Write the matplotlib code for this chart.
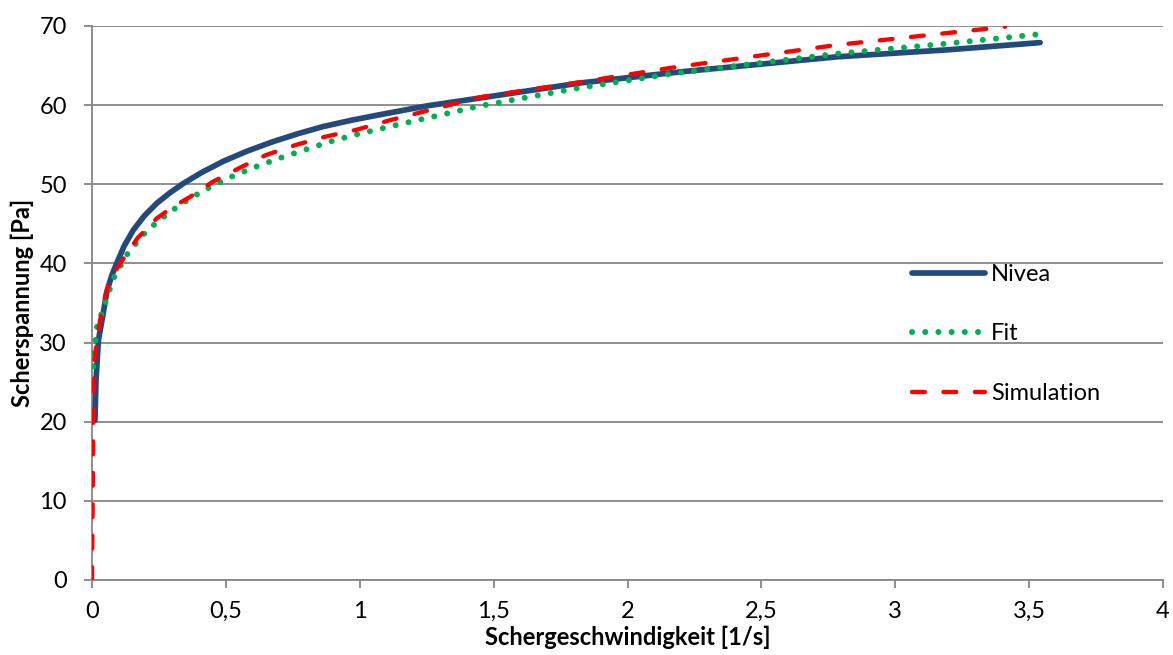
import matplotlib
matplotlib.use('Agg')
import matplotlib.pyplot as plt
from matplotlib.ticker import FuncFormatter, MultipleLocator

plt.rcParams['font.family'] = ['Lato', 'DejaVu Sans']

# Schergeschwindigkeit [1/s] / Scherspannung [Pa]
nivea_x = [0.011, 0.015, 0.024, 0.042, 0.055, 0.073, 0.092, 0.12, 0.154, 0.195,
           0.242, 0.29, 0.341, 0.41, 0.49, 0.58, 0.677, 0.77, 0.864, 0.97,
           1.076, 1.25, 1.449, 1.823, 2.196, 2.781, 3.2, 3.541]
nivea_y = [20.2, 25.3, 30.3, 33.7, 36.4, 38.4, 40.0, 42.2, 44.2, 46.0,
           47.6, 48.9, 50.1, 51.5, 52.9, 54.2, 55.4, 56.4, 57.3, 58.1,
           58.8, 59.9, 60.9, 62.8, 64.2, 66.1, 67.0, 67.9]

fit_x = [0.005, 0.017, 0.036, 0.049, 0.08, 0.13, 0.19, 0.245, 0.304, 0.365,
         0.428, 0.51, 0.603, 0.7, 0.79, 0.88, 0.976, 1.113, 1.449, 1.823,
         2.171, 2.781, 3.2, 3.534]
fit_y = [27.0, 31.8, 33.7, 35.0, 38.1, 41.1, 43.6, 45.3, 46.8, 48.2,
         49.4, 50.8, 52.1, 53.3, 54.3, 55.3, 56.2, 57.3, 59.9, 62.2,
         64.0, 66.5, 67.8, 68.95]

sim_x = [0.0, 0.005, 0.009, 0.024, 0.042, 0.067, 0.105, 0.17, 0.242, 0.3,
         0.366, 0.45, 0.553, 0.65, 0.764, 0.87, 0.989, 1.113, 1.449, 1.823,
         2.159, 2.781, 3.41]
sim_y = [0.0, 20.2, 27.8, 31.6, 35.0, 37.9, 40.0, 43.2, 45.7, 47.1,
         48.4, 50.3, 52.1, 53.7, 55.0, 56.0, 56.9, 58.1, 61.0, 62.9,
         64.7, 67.6, 69.9]

grey = '#868686'

fig = plt.figure(figsize=(11.73, 6.55), dpi=100)
ax = fig.add_axes([92 / 1173, 1 - 580 / 655, (1163 - 92) / 1173, (580 - 26) / 655])

ax.plot(nivea_x, nivea_y, color='#244A7C', lw=4.1, solid_capstyle='round',
        solid_joinstyle='round', label='Nivea', zorder=3)
ax.plot(fit_x, fit_y, color='#00B050', lw=4.3, linestyle=(0, (0.01, 2.2)),
        dash_capstyle='round', label='Fit', zorder=4)
ax.plot(sim_x, sim_y, color='#FF0000', lw=3.1, linestyle=(0, (3.0, 4.3)),
        dash_capstyle='round', label='Simulation', zorder=5)

ax.set_xlim(0, 4)
ax.set_ylim(0, 70)
ax.xaxis.set_major_locator(MultipleLocator(0.5))
ax.yaxis.set_major_locator(MultipleLocator(10))
ax.xaxis.set_major_formatter(FuncFormatter(lambda v, p: f'{v:g}'.replace('.', ',')))

ax.grid(axis='y', color=grey, lw=1.3)
ax.set_axisbelow(True)
for side in ('top', 'right'):
    ax.spines[side].set_visible(False)
for side in ('left', 'bottom'):
    ax.spines[side].set_color(grey)
    ax.spines[side].set_linewidth(1.3)
ax.tick_params(color=grey, width=1.3, length=6, labelsize=17, labelcolor='black')
ax.tick_params(axis='x', pad=9)
ax.tick_params(axis='y', pad=12)

ax.set_xlabel('Schergeschwindigkeit [1/s]', fontsize=17, fontweight='bold')
ax.xaxis.set_label_coords(0.5, -0.083)
ax.set_ylabel('Scherspannung [Pa]', fontsize=17, fontweight='bold', labelpad=4)

ax.legend(loc='upper left', bbox_to_anchor=(912 / 1173, 1 - 264 / 655),
          bbox_transform=fig.transFigure, frameon=False, fontsize=17,
          handlelength=3.1, handletextpad=0.25, labelspacing=1.63,
          borderaxespad=0, borderpad=0)

fig.savefig('out.png', dpi=100)
